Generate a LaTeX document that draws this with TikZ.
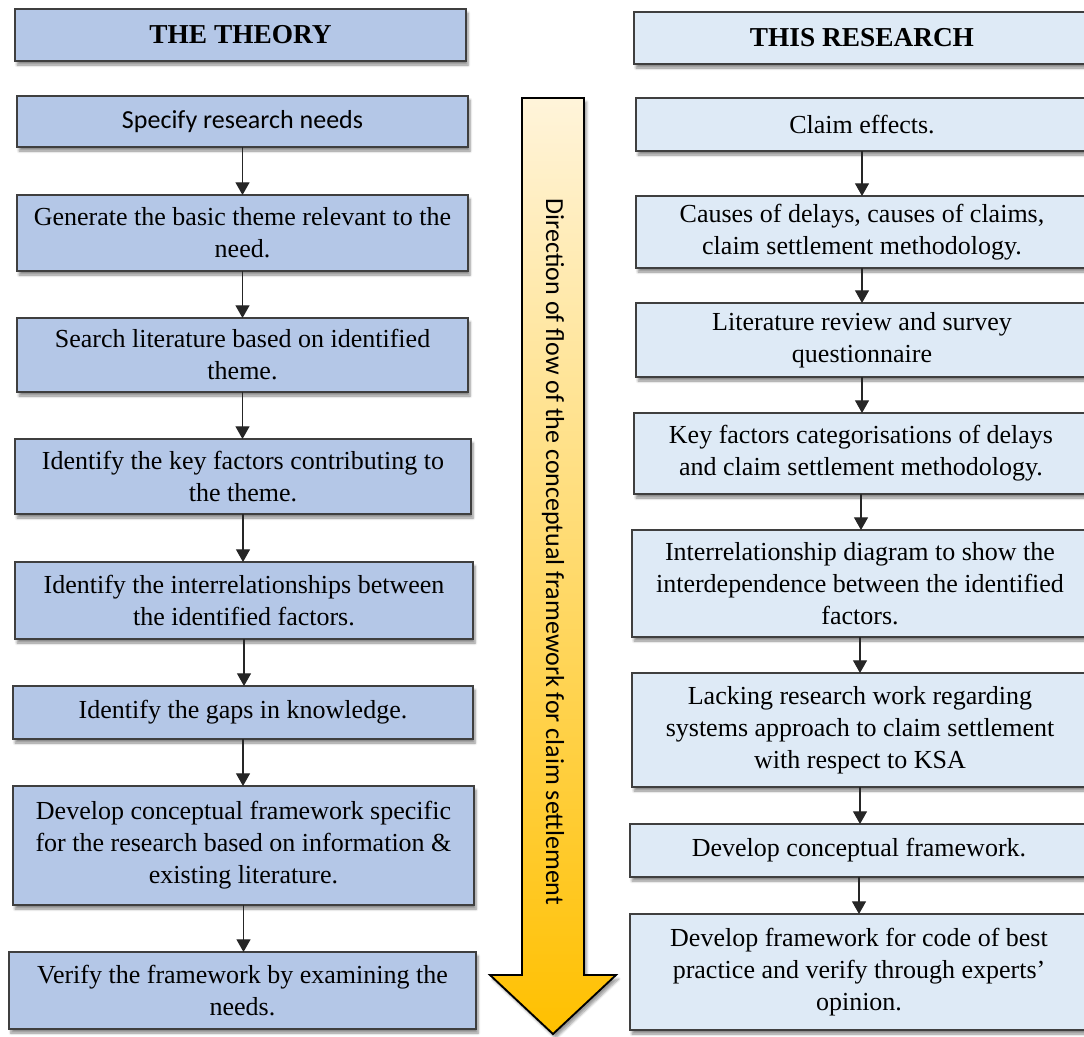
\documentclass[tikz,border=0pt]{standalone}
\usepackage{fontspec}
\setmainfont{Liberation Serif}
\newfontfamily\calib{Carlito}
\usetikzlibrary{arrows.meta,shadows.blur}

\definecolor{theoryfill}{HTML}{B4C7E7}
\definecolor{researchfill}{HTML}{DEEAF6}
\definecolor{edge}{HTML}{3F3F3F}
\definecolor{arrowtop}{HTML}{FFF4DA}
\definecolor{arrowbottom}{HTML}{FFC000}

\tikzset{
  boxbase/.style={draw=edge, line width=1pt, inner sep=0pt, outer sep=0pt,
    align=center, font=\fontsize{19.5}{24}\selectfont,
    blur shadow={shadow xshift=1.5pt, shadow yshift=-3pt, shadow blur steps=6, shadow opacity=45}},
  theorybox/.style={boxbase, fill=theoryfill},
  researchbox/.style={boxbase, fill=researchfill},
  headbox/.style={font=\fontsize{20.5}{24}\selectfont\bfseries},
  flow/.style={draw=black!85, line width=0.9pt, -{Triangle[width=10.5pt,length=9.5pt]}},
}

% name, style, x1, y1, x2, y2, text  (pixel-like units)
\newcommand\flowbox[7]{%
  \node[#2, minimum width={(#5-#3)*0.75pt}, minimum height={(#6-#4)*0.75pt}]
    (#1) at ({(#3+#5)/2},{(#4+#6)/2}) {#7};}

\begin{document}
\begin{tikzpicture}[x=0.75pt, y=-0.75pt]
\useasboundingbox (0,0) rectangle (1084,1036);
\clip (0,0) rectangle (1084,1036);

% left column: the theory
\flowbox{LH}{theorybox,headbox}{15}{9}{466}{61}{THE THEORY}
\flowbox{L1}{theorybox}{17}{96}{468}{147}{\calib Specify research needs}
\flowbox{L2}{theorybox}{17}{195}{468}{271}{Generate the basic theme relevant to the\\need.}
\flowbox{L3}{theorybox}{17}{318}{468}{392}{Search literature based on identified\\theme.}
\flowbox{L4}{theorybox}{15}{439}{471}{514}{Identify the key factors contributing to\\the theme.}
\flowbox{L5}{theorybox}{15}{562}{473}{639}{Identify the interrelationships between\\the identified factors.}
\flowbox{L6}{theorybox}{13}{686}{473}{739}{Identify the gaps in knowledge.}
\flowbox{L7}{theorybox}{13}{786}{474}{905}{Develop conceptual framework specific\\for the research based on information \&\\existing literature.}
\flowbox{L8}{theorybox}{9}{952}{476}{1029}{Verify the framework by examining the\\needs.}

% right column: this research
\flowbox{RH}{researchbox,headbox}{634}{12}{1090}{64}{THIS RESEARCH}
\flowbox{R1}{researchbox}{636}{98}{1088}{151}{Claim effects.}
\flowbox{R2}{researchbox}{636}{196}{1088}{268}{Causes of delays, causes of claims,\\claim settlement methodology.}
\flowbox{R3}{researchbox}{636}{303}{1088}{377}{Literature review and survey\\questionnaire}
\flowbox{R4}{researchbox}{634}{413}{1088}{494}{Key factors categorisations of delays\\and claim settlement methodology.}
\flowbox{R5}{researchbox}{632}{530}{1088}{637}{Interrelationship diagram to show the\\interdependence between the identified\\factors.}
\flowbox{R6}{researchbox}{632}{673}{1088}{787}{Lacking research work regarding\\systems approach to claim settlement\\with respect to KSA}
\flowbox{R7}{researchbox}{630}{824}{1088}{877}{Develop conceptual framework.}
\flowbox{R8}{researchbox}{630}{914}{1088}{1030}{Develop framework for code of best\\practice and verify through experts’\\opinion.}

% connectors
\foreach \a/\b in {L1/L2,L2/L3,L3/L4,L4/L5,L5/L6,L6/L7,L7/L8,
                   R1/R2,R2/R3,R3/R4,R4/R5,R5/R6,R6/R7,R7/R8}
  \draw[flow] (\a.south) -- (\a.south |- \b.north);

% central block arrow showing the direction of flow
\path[draw=black, line width=1.4pt, line join=miter, top color=arrowtop, bottom color=arrowbottom,
      blur shadow={shadow xshift=2pt, shadow yshift=-3pt, shadow blur steps=6, shadow opacity=40}]
  (522,98) -- (584,98) -- (584,975) -- (616,975) -- (553,1034) -- (490,975) -- (522,975) -- cycle;
\node[rotate=-90, font=\calib\fontsize{19.5}{24}\selectfont] (flowlabel) at (553,552)
  {Direction of flow of the conceptual framework for claim settlement};
\end{tikzpicture}
\end{document}
